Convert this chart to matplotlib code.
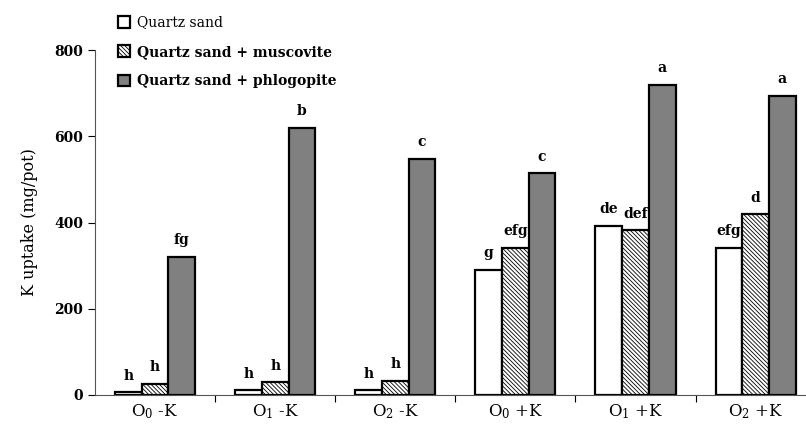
import numpy as np
import matplotlib
matplotlib.use("Agg")
import matplotlib.pyplot as plt

plt.rcParams['font.family'] = ['DejaVu Serif']
plt.rcParams['mathtext.fontset'] = 'dejavuserif'
plt.rcParams['hatch.linewidth'] = 0.6
plt.rcParams['hatch.color'] = '#333333'

treatments = ["O$_0$ -K", "O$_1$ -K", "O$_2$ -K", "O$_0$ +K", "O$_1$ +K", "O$_2$ +K"]
series_names = ["Quartz sand", "Quartz sand + muscovite", "Quartz sand + phlogopite"]
quartz = [6, 11, 11, 290, 393, 342]
muscovite = [25, 29, 32, 342, 382, 419]
phlogopite = [321, 620, 547, 514, 719, 694]
letters_quartz = ["h", "h", "h", "g", "de", "efg"]
letters_musc = ["h", "h", "h", "efg", "def", "d"]
letters_phlog = ["fg", "b", "c", "c", "a", "a"]

fig = plt.figure(figsize=(8.06, 4.25), dpi=100)
ax = fig.add_axes([95 / 806, 30 / 425, 720.7 / 806, 345 / 425])

x = np.arange(len(treatments))
w = 2 / 9
styles = [
    dict(facecolor="white", hatch=None),
    dict(facecolor="white", hatch="\\\\\\\\\\\\\\\\"),
    dict(facecolor="#808080", hatch=None),
]
values = [quartz, muscovite, phlogopite]
letters = [letters_quartz, letters_musc, letters_phlog]

handles = []
for i in range(3):
    bars = ax.bar(x + (i - 1) * w, values[i], width=w, edgecolor="black",
                  linewidth=1.6, label=series_names[i], **styles[i])
    handles.append(bars)
    # significance letters over each bar
    for b, lab in zip(bars, letters[i]):
        ax.annotate(lab, (b.get_x() + b.get_width() / 2, b.get_height()),
                    xytext=(0, 7), textcoords="offset points",
                    ha="center", va="bottom", fontsize=10, fontweight="bold")

ax.set_xlim(-0.5, len(treatments) - 0.5)
ax.set_ylim(0, 800)
ax.set_yticks([0, 200, 400, 600, 800])
ax.tick_params(axis="y", labelsize=10, length=5, width=0.8, direction="out")
for t in ax.get_yticklabels():
    t.set_fontweight("bold")

ax.set_xticks(x)
ax.set_xticklabels(treatments, fontsize=12)
ax.set_xticks(np.arange(0.5, len(treatments) - 0.5, 1), minor=True)
ax.tick_params(axis="x", which="major", length=0, pad=5)
ax.tick_params(axis="x", which="minor", length=5, width=0.8, direction="out")

ax.spines["top"].set_visible(False)
ax.spines["right"].set_visible(False)
ax.spines["left"].set_color("#555555")
ax.spines["bottom"].set_color("#555555")
ax.set_ylabel("K uptake (mg/pot)", fontsize=11.5, labelpad=12)

leg = fig.legend(handles=handles, loc="upper left", bbox_to_anchor=(112 / 806, 1 - 10 / 425),
                 frameon=False, fontsize=10, handlelength=0.9, handleheight=0.9,
                 handletextpad=0.5, labelspacing=1.1, borderaxespad=0)
for i, t in enumerate(leg.get_texts()):
    if i > 0:
        t.set_fontweight("bold")

fig.savefig("out.png", dpi=100)
